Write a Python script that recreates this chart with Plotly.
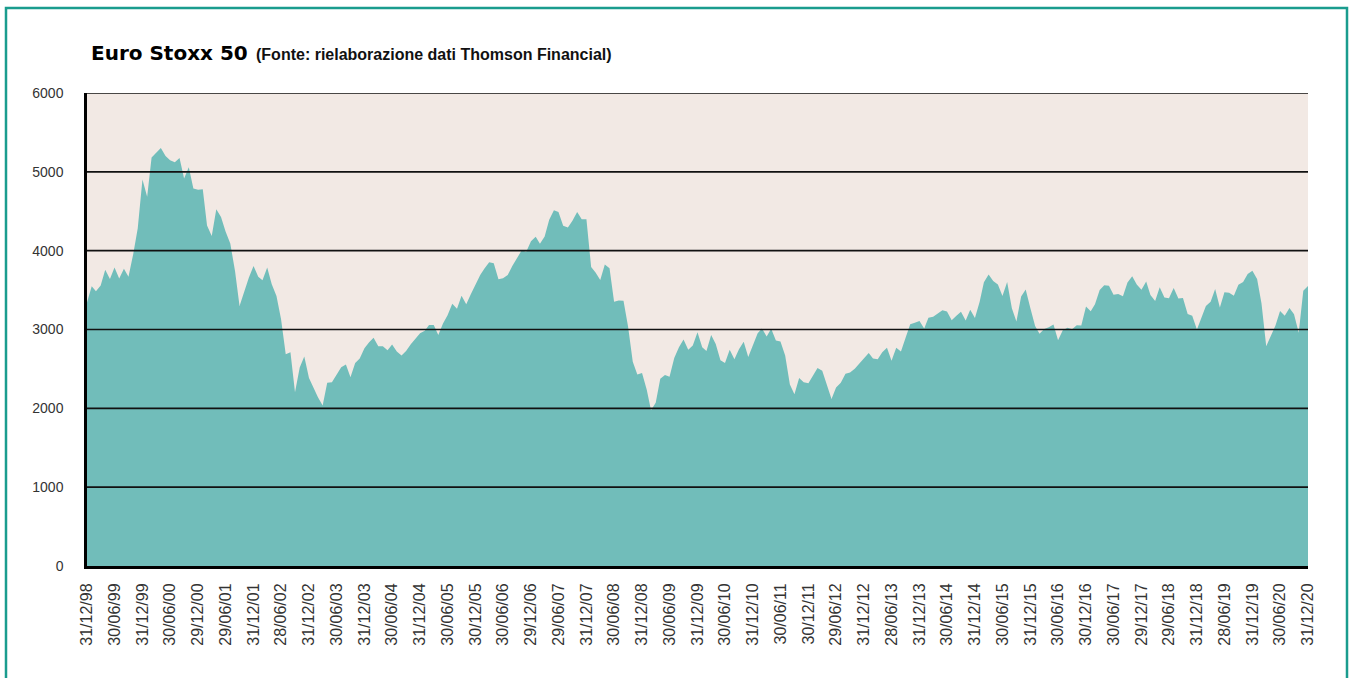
import pandas as pd
import plotly.graph_objects as go

# Monthly closes of the Euro Stoxx 50, Dec 1998 - Dec 2020
v1998 = [3342]
v1999 = [3548, 3486, 3559, 3758, 3640, 3788, 3646, 3770, 3668, 3954, 4283, 4904]
v2000 = [4684, 5182, 5249, 5303, 5200, 5146, 5122, 5175, 4915, 5057, 4790, 4772]
v2001 = [4780, 4319, 4185, 4525, 4426, 4243, 4091, 3744, 3297, 3478, 3658, 3806]
v2002 = [3670, 3625, 3785, 3574, 3425, 3133, 2685, 2710, 2204, 2519, 2657, 2386]
v2003 = [2248, 2141, 2036, 2324, 2331, 2419, 2520, 2557, 2395, 2576, 2631, 2761]
v2004 = [2839, 2894, 2787, 2788, 2737, 2811, 2720, 2671, 2726, 2812, 2876, 2951]
v2005 = [2985, 3058, 3056, 2930, 3077, 3182, 3327, 3264, 3429, 3320, 3448, 3579]
v2006 = [3692, 3775, 3854, 3839, 3637, 3649, 3692, 3809, 3899, 4004, 3987, 4120]
v2007 = [4178, 4088, 4181, 4393, 4512, 4489, 4316, 4294, 4381, 4490, 4398, 4400]
v2008 = [3792, 3724, 3628, 3826, 3777, 3353, 3368, 3366, 3038, 2592, 2430, 2448]
v2009 = [2236, 1976, 2071, 2375, 2422, 2401, 2639, 2775, 2873, 2743, 2798, 2965]
v2010 = [2776, 2728, 2931, 2817, 2610, 2574, 2742, 2623, 2748, 2845, 2650, 2793]
v2011 = [2954, 3013, 2911, 3011, 2862, 2849, 2670, 2302, 2180, 2385, 2330, 2317]
v2012 = [2416, 2512, 2477, 2306, 2118, 2265, 2325, 2440, 2454, 2503, 2575, 2636]
v2013 = [2703, 2633, 2624, 2712, 2770, 2603, 2768, 2721, 2893, 3068, 3086, 3109]
v2014 = [3013, 3150, 3162, 3198, 3245, 3228, 3116, 3173, 3226, 3114, 3251, 3146]
v2015 = [3351, 3599, 3697, 3616, 3570, 3424, 3601, 3270, 3101, 3418, 3506, 3268]
v2016 = [3045, 2946, 3005, 3028, 3063, 2865, 2991, 3023, 3002, 3055, 3052, 3291]
v2017 = [3231, 3320, 3501, 3560, 3555, 3442, 3450, 3421, 3595, 3674, 3570, 3504]
v2018 = [3610, 3439, 3362, 3536, 3407, 3396, 3526, 3393, 3399, 3198, 3173, 3001]
v2019 = [3159, 3298, 3352, 3515, 3280, 3474, 3467, 3427, 3569, 3604, 3704, 3745]
v2020 = [3641, 3329, 2787, 2928, 3050, 3234, 3174, 3273, 3194, 2958, 3493, 3553]

tick_labels = [
    "31/12/98", "30/06/99", "31/12/99", "30/06/00", "29/12/00", "29/06/01",
    "31/12/01", "28/06/02", "31/12/02", "30/06/03", "31/12/03", "30/06/04",
    "31/12/04", "30/06/05", "30/12/05", "30/06/06", "29/12/06", "29/06/07",
    "31/12/07", "30/06/08", "31/12/08", "30/06/09", "31/12/09", "30/06/10",
    "31/12/10", "30/06/11", "30/12/11", "29/06/12", "31/12/12", "28/06/13",
    "31/12/13", "30/06/14", "31/12/14", "30/06/15", "31/12/15", "30/06/16",
    "30/12/16", "30/06/17", "29/12/17", "29/06/18", "31/12/18", "28/06/19",
    "31/12/19", "30/06/20", "31/12/20",
]
y_ticks = [0, 1000, 2000, 3000, 4000, 5000, 6000]

values = (v1998 + v1999 + v2000 + v2001 + v2002 + v2003 + v2004 + v2005 + v2006
          + v2007 + v2008 + v2009 + v2010 + v2011 + v2012 + v2013 + v2014
          + v2015 + v2016 + v2017 + v2018 + v2019 + v2020)
dates = pd.date_range("1998-12-31", periods=len(values), freq="ME")
tick_dates = list(dates[::6])

# page coordinates (body margin removed below)
W, H = 1349, 678
PL, PR, PT, PB = 87, 1308, 93, 566          # plot area in page pixels
L, T, R, B = PL, PT, W - PR, H - PB
pw, ph = PR - PL, PB - PT

def px_x(x):
    return (x - PL) / pw

def px_y(y):
    return (PB - y) / ph

fig = go.Figure()
fig.add_trace(go.Scatter(
    x=dates, y=values, mode="lines", fill="tozeroy",
    line=dict(width=0, color="#71BDBA"), fillcolor="#71BDBA",
    hoverinfo="x+y",
))

shapes = []
for v in y_ticks[1:]:
    shapes.append(dict(type="line", xref="paper", yref="y", x0=0, x1=1, y0=v, y1=v,
                       line=dict(color="#111111", width=1.6), layer="above"))
# outer frame
shapes.append(dict(type="rect", xref="paper", yref="paper",
                   x0=px_x(6), x1=px_x(1347), y0=px_y(8), y1=px_y(720),
                   line=dict(color="#1A9C8E", width=2.5), fillcolor="rgba(0,0,0,0)",
                   layer="above"))

fig.update_layout(
    width=W, height=H,
    margin=dict(l=L, r=R, t=T, b=B),
    paper_bgcolor="white", plot_bgcolor="#F2E9E4",
    showlegend=False,
    shapes=shapes,
    font=dict(family="Liberation Sans, Arial, sans-serif", color="#333333"),
    annotations=[
        dict(xref="paper", yref="paper", x=px_x(89), y=px_y(53), xanchor="left", yanchor="middle",
             showarrow=False,
             text="<b>Euro Stoxx 50</b>",
             font=dict(family="DejaVu Sans", size=20, color="#000000")),
        dict(xref="paper", yref="paper", x=px_x(254), y=px_y(55), xanchor="left", yanchor="middle",
             showarrow=False,
             text="<b>(Fonte: rielaborazione dati Thomson Financial)</b>",
             font=dict(family="Liberation Sans", size=16, color="#111111")),
    ],
)
fig.update_xaxes(
    range=[dates[0], dates[-1]],
    tickvals=tick_dates, ticktext=tick_labels, tickangle=-90,
    tickfont=dict(size=16, color="#333333"),
    showgrid=False, zeroline=False,
    showline=True, linecolor="#000000", linewidth=3,
    ticks="", ticklabelstandoff=8, layer="above traces",
)
fig.update_yaxes(
    range=[0, 6000], tickvals=y_ticks,
    tickfont=dict(size=14, color="#333333"),
    showgrid=False, zeroline=False,
    showline=True, linecolor="#000000", linewidth=2.5,
    ticks="", ticklabelstandoff=18, layer="above traces",
)

fig.write_html(
    "out.html",
    config={"displayModeBar": False},
    post_script="document.body.style.margin='0';document.body.style.overflow='hidden';",
)
